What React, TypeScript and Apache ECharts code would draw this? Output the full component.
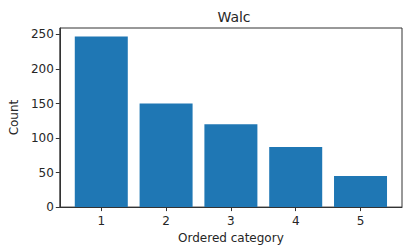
import React, { useEffect, useRef } from "react";
import * as echarts from "echarts";

const categories = [1, 2, 3, 4, 5];
const counts = [247, 150, 120, 87, 45];
const yTicks = [0, 50, 100, 150, 200, 250];
const title = "Walc";
const xName = "Ordered category";
const yName = "Count";

export default function App() {
  const ref = useRef<HTMLDivElement>(null);
  useEffect(() => {
    if (!ref.current) return;
    const chart = echarts.init(ref.current, undefined, { renderer: "svg" });
    const font = "DejaVu Sans";
    const textColor = "#262626";
    const lineColor = "#333";
    chart.setOption({
      animation: false,
      title: {
        text: title,
        left: 229,
        top: 5,
        textAlign: "center",
        textStyle: { fontFamily: font, fontSize: 14, fontWeight: "normal", color: textColor },
      },
      grid: {
        left: 56,
        right: 2,
        top: 28,
        bottom: 37,
        show: true,
        borderColor: lineColor,
        borderWidth: 1,
        backgroundColor: "transparent",
      },
      xAxis: {
        type: "value",
        min: 0.36,
        max: 5.64,
        name: xName,
        nameLocation: "middle",
        nameGap: 23,
        nameTextStyle: { fontFamily: font, fontSize: 12, color: textColor },
        axisLine: { show: true, lineStyle: { color: lineColor } },
        axisTick: { show: true, length: 4, customValues: categories, lineStyle: { color: lineColor } },
        axisLabel: { customValues: categories, margin: 8, fontFamily: font, fontSize: 12, color: textColor },
        splitLine: { show: false },
      },
      yAxis: {
        type: "value",
        min: 0,
        max: Math.max(...counts) * 1.05,
        name: yName,
        nameLocation: "middle",
        nameGap: 34,
        nameRotate: 90,
        nameTextStyle: { fontFamily: font, fontSize: 12, color: textColor },
        axisLine: { show: true, lineStyle: { color: lineColor } },
        axisTick: { show: true, length: 4, customValues: yTicks, lineStyle: { color: lineColor } },
        axisLabel: { customValues: yTicks, margin: 6, fontFamily: font, fontSize: 12, color: textColor },
        splitLine: { show: false },
      },
      series: [
        {
          type: "bar",
          data: categories.map((c, i) => [c, counts[i]]),
          barWidth: 53,
          itemStyle: { color: "#1f77b4" },
        },
      ],
    });
    return () => chart.dispose();
  }, []);
  return (
    <div
      ref={ref}
      style={{ position: "fixed", left: 0, top: 0, width: 404, height: 249, background: "#fff" }}
    />
  );
}
